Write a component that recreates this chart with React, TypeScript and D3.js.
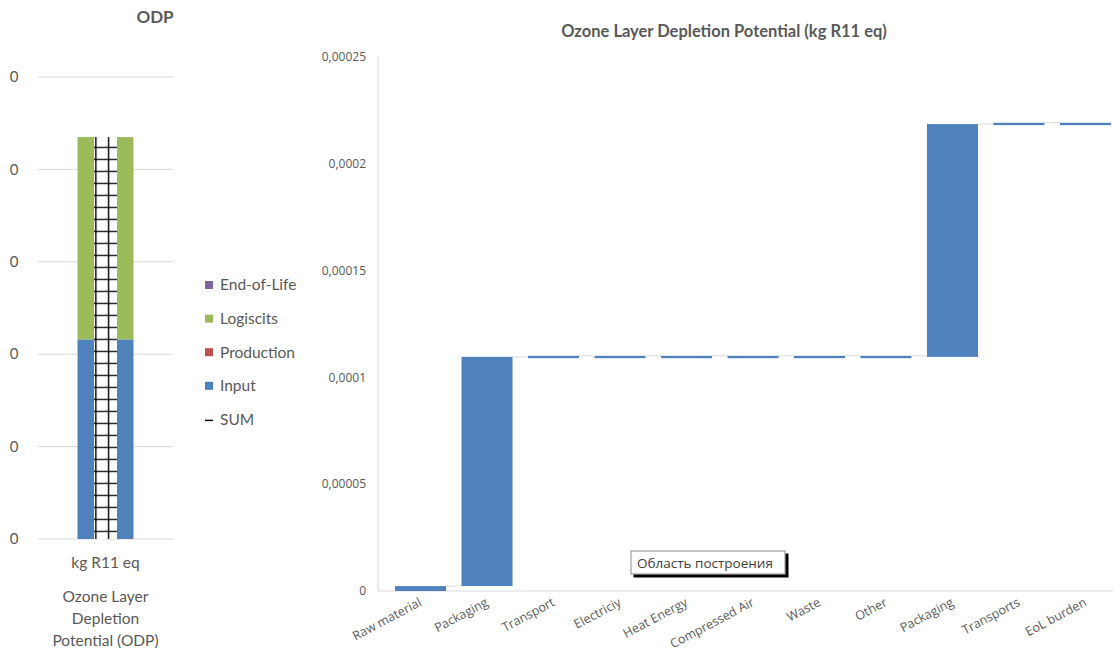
import React from "react";
import * as d3 from "d3";

// ---------- Left chart data ----------
const leftCategory = ["kg R11 eq"];
const leftSeriesNames = ["End-of-Life", "Logiscits", "Production", "Input", "SUM"];
const leftInput = [0.000108];
const leftProduction = [0];
const leftLogistics = [0.0001095];
const leftEndOfLife = [0];
const leftSum = [0.0002175];
const leftTicks = [0, 0.00005, 0.0001, 0.00015, 0.0002, 0.00025];

// ---------- Right chart data (waterfall) ----------
const rightCategories = [
  "Raw material", "Packaging", "Transport", "Electriciy", "Heat Energy",
  "Compressed Air", "Waste", "Other", "Packaging", "Transports", "EoL burden",
];
const rightBase = [0, 0.0000023, 0.000109, 0.000109, 0.000109, 0.000109, 0.000109, 0.000109, 0.0001096, 0.0002181, 0.0002181];
const rightDelta = [0.0000023, 0.0001073, 0.0000011, 0.0000011, 0.0000011, 0.0000011, 0.0000011, 0.0000011, 0.000109, 0.0000011, 0.0000011];
const rightTicks = [0, 0.00005, 0.0001, 0.00015, 0.0002, 0.00025];

const COLORS: Record<string, string> = {
  "End-of-Life": "#8064a2",
  "Logiscits": "#9bbb59",
  "Production": "#c0504d",
  "Input": "#4f81bd",
};
const TXT = "#595959";
const GRID = "#d9d9d9";
const FONT = "'Open Sans', sans-serif";
const FONT2 = "Lato, 'Open Sans', sans-serif";

export default function App() {
  // Left scales
  const yL = d3.scaleLinear().domain([0, 0.00025]).range([539, 77]);
  const xL = d3.scaleBand().domain(leftCategory).range([38, 173]).paddingInner(0.5).paddingOuter(0.353);
  const fmtL = d3.format(".0f");

  const stackOrder = [
    { name: "Input", vals: leftInput },
    { name: "Production", vals: leftProduction },
    { name: "Logiscits", vals: leftLogistics },
    { name: "End-of-Life", vals: leftEndOfLife },
  ];

  // Right scales
  const xR = d3.scaleBand<number>()
    .domain(rightCategories.map((_, i) => i))
    .range([378, 1128])
    .paddingInner(0.233)
    .paddingOuter(0.256);
  const yR = d3.scaleLinear().domain([0, 0.00025]).range([591, 57]);
  const fmtR = (v: number) => (v === 0 ? "0" : String(+v.toPrecision(6)).replace(".", ","));

  const cat = leftCategory[0];
  const bx = xL(cat)!;
  const bw = xL.bandwidth();
  const cx = bx + bw / 2;
  const sumW = 23;

  let acc = 0;
  const stacked = stackOrder.map((s) => {
    const y0 = acc;
    acc += s.vals[0];
    return { name: s.name, y0, y1: acc };
  });

  return (
    <svg width={1113} height={663} style={{ position: "absolute", left: 0, top: 0, background: "#fff" }} fontFamily={FONT}>
      <defs>
        <pattern id="gridpat" patternUnits="userSpaceOnUse" x={cx - 10.3} y={yL(leftSum[0]) + 9.7} width={12.6} height={12}>
          <rect width={12.6} height={12} fill="#fff" />
          <line x1={0.7} x2={0.7} y1={0} y2={12} stroke="#000" strokeWidth={1.4} />
          <line x1={0} x2={12.6} y1={0.6} y2={0.6} stroke="#000" strokeWidth={1.3} />
        </pattern>
        <filter id="shadow" x="-10%" y="-10%" width="130%" height="160%">
          <feOffset dx="3" dy="3" in="SourceAlpha" result="o" />
          <feMerge><feMergeNode in="o" /><feMergeNode in="SourceGraphic" /></feMerge>
        </filter>
      </defs>

      {/* ---------- Left chart ---------- */}
      <text x={155} y={17} dy="0.35em" textAnchor="middle" fontWeight="bold" fontSize={17} fill={TXT} fontFamily={FONT2}>ODP</text>
      {leftTicks.map((t, i) => (
        <g key={"lt" + i}>
          <line x1={38} x2={173} y1={yL(t)} y2={yL(t)} stroke={GRID} strokeWidth={1} />
          <text x={14} y={yL(t)} dy="0.35em" textAnchor="middle" fontSize={15} fill={TXT} fontFamily={FONT2}>{fmtL(t)}</text>
        </g>
      ))}
      {stacked.map((s) => (
        s.y1 > s.y0 ? (
          <rect key={s.name} x={bx} width={bw} y={yL(s.y1)} height={yL(s.y0) - yL(s.y1)} fill={COLORS[s.name]} />
        ) : null
      ))}
      <rect x={cx - sumW / 2} width={sumW} y={yL(leftSum[0])} height={yL(0) - yL(leftSum[0])} fill="url(#gridpat)" />
      <text x={cx} y={563} dy="0.35em" textAnchor="middle" fontSize={15.5} fill={TXT} fontFamily={FONT2}>{cat}</text>
      {["Ozone Layer", "Depletion", "Potential (ODP)"].map((l, i) => (
        <text key={l} x={cx} y={597 + i * 22} dy="0.35em" textAnchor="middle" fontSize={15.5} fill={TXT} fontFamily={FONT2}>{l}</text>
      ))}
      {leftSeriesNames.map((n, i) => {
        const y = 285 + i * 33.6;
        return (
          <g key={n}>
            {n === "SUM" ? (
              <line x1={205} x2={213} y1={y + 1} y2={y + 1} stroke="#000" strokeWidth={1.5} />
            ) : (
              <rect x={205} y={y - 4} width={8} height={8} fill={COLORS[n]} />
            )}
            <text x={220} y={y} dy="0.35em" fontSize={15.5} fill={TXT} fontFamily={FONT2}>{n}</text>
          </g>
        );
      })}

      {/* ---------- Right chart ---------- */}
      <text x={724} y={31} dy="0.35em" textAnchor="middle" fontWeight="bold" fontSize={16.5} fill={TXT} fontFamily={FONT2}>
        Ozone Layer Depletion Potential (kg R11 eq)
      </text>
      <line x1={378} x2={378} y1={yR(0.00025)} y2={yR(0)} stroke={GRID} />
      <line x1={378} x2={1113} y1={yR(0)} y2={yR(0)} stroke={GRID} />
      {rightTicks.map((t, i) => (
        <text key={"rt" + i} x={366} y={yR(t)} dy="0.35em" textAnchor="end" fontSize={12} fill={TXT}>{fmtR(t)}</text>
      ))}
      {rightCategories.map((c, i) => {
        if (i === rightCategories.length - 1) return null;
        const top = rightBase[i] + rightDelta[i];
        return (
          <line key={"cn" + i} x1={xR(i)! + xR.bandwidth()} x2={xR(i + 1)!} y1={yR(top)} y2={yR(top)} stroke={GRID} />
        );
      })}
      {rightCategories.map((c, i) => (
        <rect key={"b" + i} x={xR(i)!} width={xR.bandwidth()}
          y={yR(rightBase[i] + rightDelta[i])}
          height={yR(rightBase[i]) - yR(rightBase[i] + rightDelta[i])}
          fill="#4f81bd" />
      ))}
      {rightCategories.map((c, i) => {
        const x = xR(i)! + xR.bandwidth() / 2 + 2;
        const y = 605;
        return (
          <text key={"xl" + i} x={x} y={y} textAnchor="end" fontSize={12.5} fill={TXT}
            transform={`rotate(-28 ${x} ${y})`}>{c}</text>
        );
      })}

      {/* tooltip */}
      <g filter="url(#shadow)">
        <rect x={631} y={551} width={154} height={23} fill="#fff" stroke="#8c8c8c" strokeWidth={1} />
      </g>
      <text x={637} y={563} dy="0.35em" fontSize={13.5} fill="#404040">Область построения</text>
    </svg>
  );
}
